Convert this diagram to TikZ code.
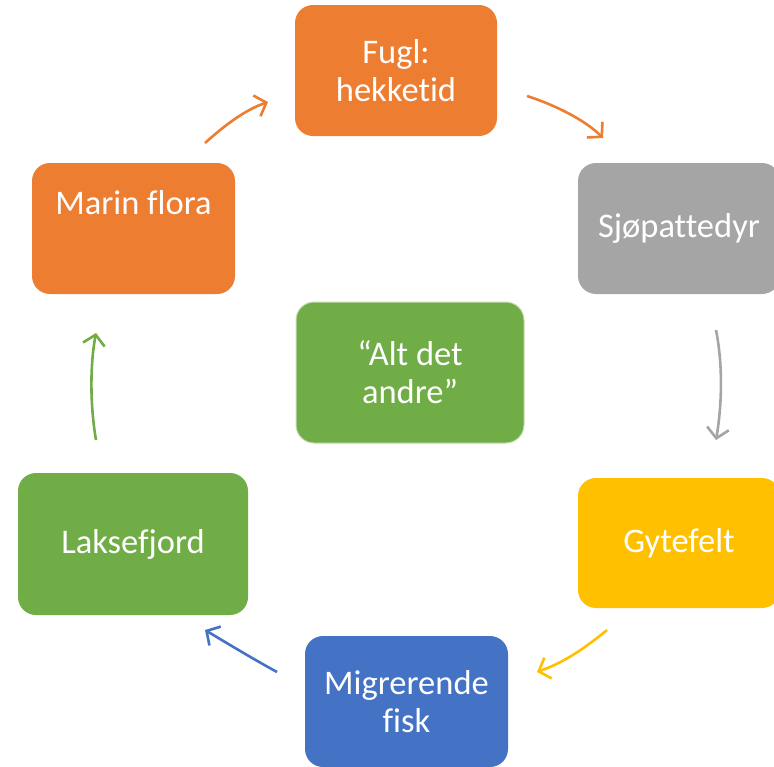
\documentclass[tikz,border=0pt]{standalone}
\usepackage{fontspec}
\setmainfont{Carlito}[Ligatures=NoCommon]
\usetikzlibrary{arrows.meta}
\definecolor{corange}{HTML}{ED7D31}
\definecolor{cgray}{HTML}{A5A5A5}
\definecolor{cyellow}{HTML}{FFC000}
\definecolor{cblue}{HTML}{4472C4}
\definecolor{cgreen}{HTML}{70AD47}
\tikzset{
  box/.style={rounded corners=18pt, minimum width=#1, inner sep=0pt, align=center, text=white, font=\fontsize{34.5}{38}\selectfont},
  arr/.style={line width=2.6pt, -{Straight Barb[length=10pt,width=22pt,line width=2.6pt]}},
}
\begin{document}
\begin{tikzpicture}[x=1pt,y=-1pt]
\useasboundingbox (0,0) rectangle (774,766);
\begin{scope}
\clip (0,0) rectangle (774,766);
\node[box=202pt, fill=corange, minimum height=131pt] (fugl) at (396,70.5) {Fugl:\\hekketid};
\node[box=202pt, fill=cgray, minimum height=131pt] (sjo) at (679,228.5) {Sjøpattedyr};
\node[box=202pt, fill=cyellow, minimum height=130pt] (gyte) at (679,543) {Gytefelt};
\node[box=203pt, fill=cblue, minimum height=131pt] (migr) at (406.5,701.5) {Migrerende\\fisk};
\node[box=230pt, fill=cgreen, minimum height=142pt] (laks) at (133,544) {Laksefjord};
\node[box=203pt, fill=corange, minimum height=131pt] (marin) at (133.5,228.5) {};
\node[font=\fontsize{34.5}{38}\selectfont, text=white, inner sep=0pt] (marintxt) at (133.5,203) {Marin flora};
\node[box=228pt, fill=cgreen, draw=cgreen!40!white, line width=1pt, minimum height=141pt] (alt) at (410,372.5) {“Alt det\\andre”};
\end{scope}
\coordinate (a1s) at (205,143); \coordinate (a1e) at (268,102);
\coordinate (a2s) at (527,96);  \coordinate (a2e) at (603,138);
\coordinate (a3s) at (716,330); \coordinate (a3e) at (716,440);
\coordinate (a4s) at (607,630); \coordinate (a4e) at (537,672);
\coordinate (a5s) at (277,672); \coordinate (a5e) at (205,630);
\coordinate (a6s) at (96,440);  \coordinate (a6e) at (96,333);
\draw[arr, corange] (a1s) .. controls (225,125) and (245,110) .. (a1e);
\draw[arr, corange] (a2s) .. controls (555,105) and (585,120) .. (a2e);
\draw[arr, cgray] (a3s) .. controls (723,365) and (722,405) .. (a3e);
\draw[arr, cyellow] (a4s) .. controls (585,648) and (565,662) .. (a4e);
\draw[arr, cblue] (a5s) .. controls (255,660) and (230,645) .. (a5e);
\draw[arr, cgreen] (a6s) .. controls (90,405) and (90,365) .. (a6e);
\end{tikzpicture}
\end{document}
